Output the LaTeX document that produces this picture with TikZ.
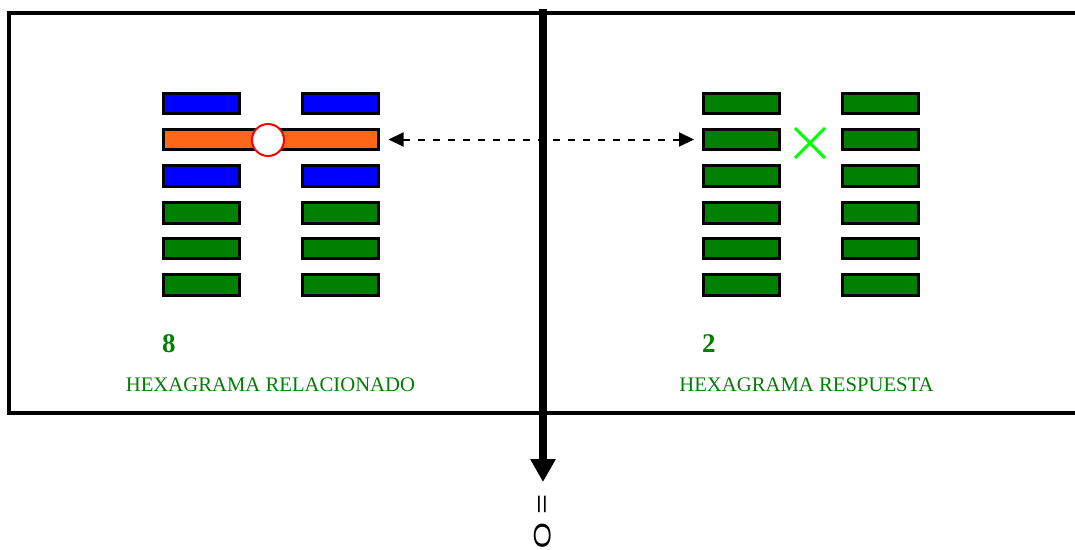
\documentclass[tikz,border=0pt]{standalone}
\usepackage{fontspec}
\setmainfont{Liberation Serif}
\newfontfamily\arialf{Liberation Sans}
\usetikzlibrary{arrows.meta,shapes.misc}
\definecolor{barGreen}{HTML}{008000}
\definecolor{barBlue}{HTML}{0000FF}
\definecolor{barOrange}{HTML}{FF661A}
\definecolor{txtGreen}{HTML}{008000}
\definecolor{crossGreen}{HTML}{00FF00}
\begin{document}
\begin{tikzpicture}[x=1pt,y=-1pt,
  bar/.style={draw=black, line width=3pt, minimum width=76pt, minimum height=20.5pt, inner sep=0pt, outer sep=0pt},
  gbar/.style={bar, fill=barGreen},
  bbar/.style={bar, fill=barBlue},
  numlbl/.style={text=txtGreen, font=\fontsize{27}{30}\selectfont\bfseries, anchor=base west, inner sep=0pt},
  namelbl/.style={text=txtGreen, font=\fontsize{20.7}{24}\selectfont, anchor=base, inner sep=0pt}]
\useasboundingbox (0,0) rectangle (1075,549);
% frame
\draw[line width=4pt] (9,13) rectangle (1090,413);
% left hexagram
\node[bbar] (l1a) at (201.5,103.5) {};
\node[bbar] (l1b) at (340.5,103.5) {};
\node[bar, fill=barOrange, minimum width=215pt] (l2) at (271,139.5) {};
\node[bbar] (l3a) at (201.5,176) {};
\node[bbar] (l3b) at (340.5,176) {};
\node[gbar] (l4a) at (201.5,213) {};
\node[gbar] (l4b) at (340.5,213) {};
\node[gbar] (l5a) at (201.5,248.5) {};
\node[gbar] (l5b) at (340.5,248.5) {};
\node[gbar] (l6a) at (201.5,285) {};
\node[gbar] (l6b) at (340.5,285) {};
\node[circle, draw=red, fill=white, line width=2pt, minimum size=32pt, inner sep=0pt] (mov) at (268,140) {};
% right hexagram
\foreach \i/\y in {1/103.5,2/139.5,3/176,4/213,5/248.5,6/285}{
  \node[gbar] (r\i a) at (741,\y) {};
  \node[gbar] (r\i b) at (880,\y) {};
}
\node[cross out, draw=crossGreen, line width=3pt, minimum size=27pt, inner sep=0pt] (xm) at (810,143) {};
% dashed arrow
\draw[line width=2pt, dash pattern=on 7pt off 8pt, {Triangle[length=15pt,width=14pt]}-{Triangle[length=15pt,width=14pt]}, shorten <=10pt, shorten >=9pt] (l2.east) -- (r2a.west);
% labels
\node[numlbl] (n8) at (162,352) {8};
\node[numlbl] (n2) at (702,352) {2};
\node[namelbl] (t1) at (270.5,391) {HEXAGRAMA RELACIONADO};
\node[namelbl] (t2) at (806.5,391) {HEXAGRAMA RESPUESTA};
% vertical arrow
\coordinate (vtop) at (543,9);
\coordinate (vtip) at (543,482);
\draw[line width=8pt, -{Triangle[length=23pt,width=24pt]}] (vtop) -- (vtip);
\node[rotate=-90, anchor=west, inner sep=0pt, font=\arialf\fontsize{34}{38}\selectfont] (res) at (543,494) {\scalebox{1}[0.7]{=\hspace{8pt}O}};
\end{tikzpicture}
\end{document}
